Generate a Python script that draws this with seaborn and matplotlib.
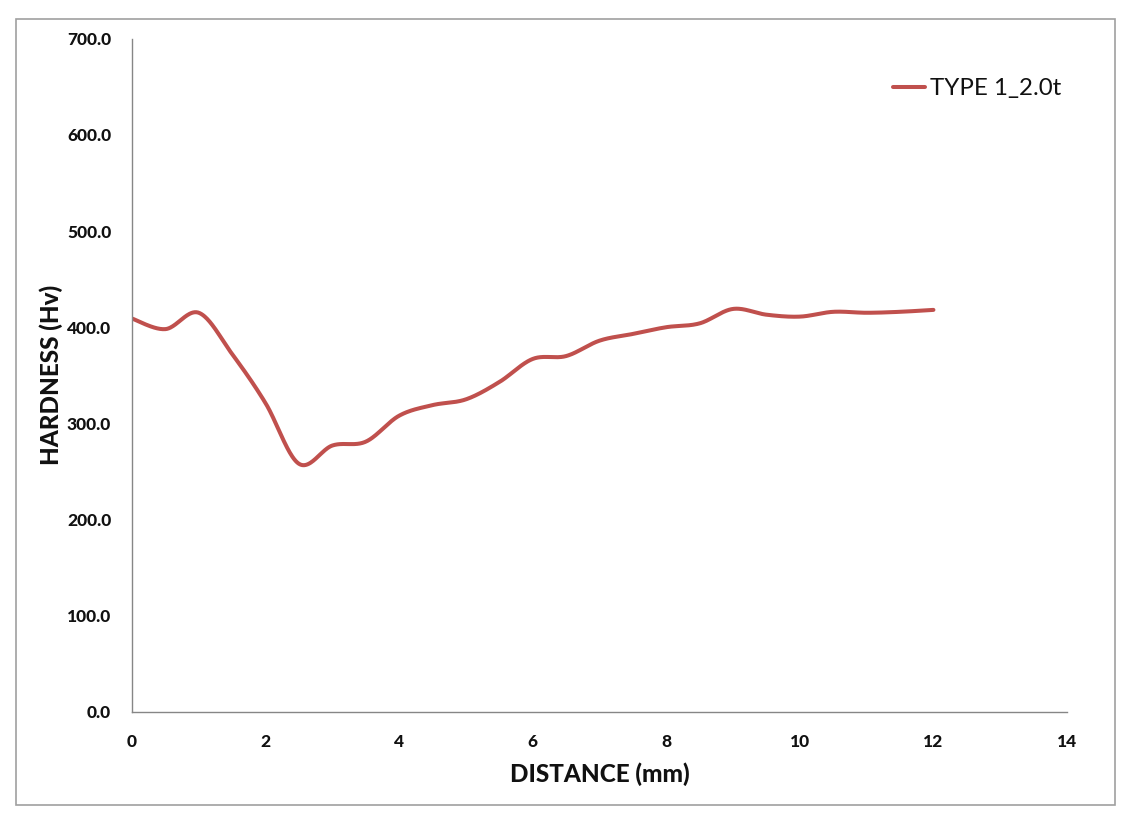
import numpy as np
import pandas as pd
import matplotlib
matplotlib.use("Agg")
import matplotlib.pyplot as plt
from matplotlib.patches import Rectangle
import seaborn as sns

# ---- data ----
distance_mm = [0.0, 0.5, 1.0, 1.5, 2.0, 2.5, 3.0, 3.5, 4.0, 4.5, 5.0, 5.5,
               6.0, 6.5, 7.0, 7.5, 8.0, 8.5, 9.0, 9.5, 10.0, 10.5, 11.0, 11.5, 12.0]
hardness_hv = [409, 398, 415, 372, 321, 258, 277, 281, 308, 319, 325, 343,
               367, 370, 386, 393, 400, 404, 419, 413, 411, 416, 415, 416, 418]
series_label = "TYPE 1_2.0t"
x_ticks = [0, 2, 4, 6, 8, 10, 12, 14]
y_ticks = [0, 100, 200, 300, 400, 500, 600, 700]
x_label = "DISTANCE (mm)"
y_label = "HARDNESS (Hv)"


def smooth_line(x, y, n=40):
    """Excel-style smoothed line (uniform Catmull-Rom through the data points)."""
    x = np.asarray(x, float)
    y = np.asarray(y, float)
    px = np.concatenate([[x[0]], x, [x[-1]]])
    py = np.concatenate([[y[0]], y, [y[-1]]])
    t = np.linspace(0, 1, n, endpoint=False)[:, None]
    xs, ys = [], []
    for i in range(1, len(px) - 2):
        for arr, out in ((px, xs), (py, ys)):
            p0, p1, p2, p3 = arr[i - 1], arr[i], arr[i + 1], arr[i + 2]
            c = 0.5 * ((2 * p1) + (-p0 + p2) * t + (2 * p0 - 5 * p1 + 4 * p2 - p3) * t ** 2
                       + (-p0 + 3 * p1 - 3 * p2 + p3) * t ** 3)
            out.append(c.ravel())
    xs.append([x[-1]])
    ys.append([y[-1]])
    return np.concatenate(xs), np.concatenate(ys)


sx, sy = smooth_line(distance_mm, hardness_hv)
df = pd.DataFrame({"distance": sx, "hardness": sy})

sns.set_theme(style="white")
plt.rcParams["font.family"] = ["Lato", "DejaVu Sans"]

W, H = 1138, 817
fig = plt.figure(figsize=(W / 100, H / 100), dpi=100)
fig.patch.set_facecolor("white")
ax = fig.add_axes([132 / W, 1 - 712 / H, (1067 - 132) / W, (712 - 38.6) / H])

sns.lineplot(data=df, x="distance", y="hardness", sort=False, estimator=None,
             color="#C0504D", linewidth=2.9, label=series_label, ax=ax)

ax.set_xlim(0, 14)
ax.set_ylim(0, 700)
ax.set_xticks(x_ticks)
ax.set_xticklabels([str(v) for v in x_ticks])
ax.set_yticks(y_ticks)
ax.set_yticklabels([f"{v:.1f}" for v in y_ticks])

for s in ("top", "right"):
    ax.spines[s].set_visible(False)
for s in ("left", "bottom"):
    ax.spines[s].set_color("#868686")
    ax.spines[s].set_linewidth(1.0)

ax.tick_params(axis="both", which="major", direction="out", length=5, width=1,
               color="#868686", labelcolor="#111111", labelsize=12.5)
ax.tick_params(axis="x", pad=11)
ax.tick_params(axis="y", pad=10)
for lab in ax.get_xticklabels() + ax.get_yticklabels():
    lab.set_fontweight("black")

ax.set_xlabel(x_label, fontsize=17.5, fontweight="black", color="#111111", labelpad=9)
ax.set_ylabel(y_label, fontsize=17.5, fontweight="black", color="#111111", labelpad=3)
ax.grid(False)

leg = ax.legend(loc="center left", bbox_to_anchor=(893 / W, 1 - 89 / H),
                bbox_transform=fig.transFigure, frameon=False, fontsize=17.3,
                handlelength=1.35, handletextpad=0.2, borderpad=0, borderaxespad=0)
for t in leg.get_texts():
    t.set_color("#111111")

fig.patches.append(Rectangle((16 / W, 1 - 805 / H), (1115 - 16) / W, (805 - 18.7) / H,
                             transform=fig.transFigure, fill=False,
                             edgecolor="#A0A0A0", linewidth=1.2))

fig.savefig("out.png", dpi=100, facecolor="white")
